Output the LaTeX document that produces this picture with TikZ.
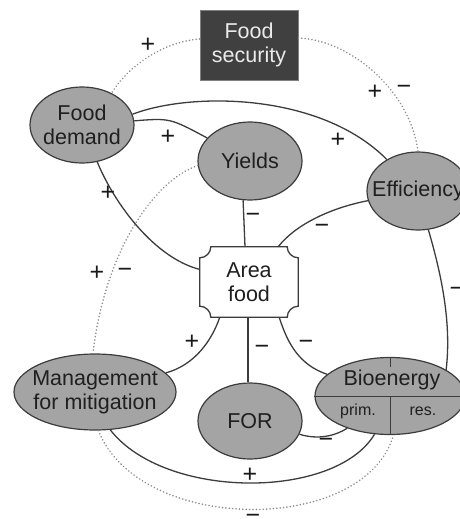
\documentclass[tikz,border=0pt]{standalone}
\usepackage{fontspec}
\setmainfont{Liberation Sans}
\usetikzlibrary{shapes.geometric,calc}
\definecolor{elfill}{HTML}{A4A4A4}
\definecolor{edgec}{HTML}{3C3C3C}
\definecolor{fsfill}{HTML}{404040}
\definecolor{dotc}{HTML}{8C8C8C}
\begin{document}
\begin{tikzpicture}[x=1pt,y=-1pt,
 font=\fontsize{21.5}{24}\selectfont,
 el/.style={ellipse, draw=edgec, fill=elfill, line width=1.2pt, inner sep=0pt},
 lbl/.style={align=center, text=black!88, inner sep=0pt},
 smalllbl/.style={lbl, font=\fontsize{16}{18}\selectfont},
 conn/.style={draw=edgec, line width=1.3pt},
 dots/.style={draw=dotc, line width=1.7pt, dash pattern=on 0.1pt off 3.3pt, line cap=round},
 sgn/.style={font=\fontsize{25}{25}\selectfont, text=black!90, inner sep=0pt}]
\useasboundingbox (0,0) rectangle (460,519);
\clip (0,0) rectangle (460,519);

% nodes
\node[draw=gray, fill=fsfill, line width=0.8pt, minimum width=98pt, minimum height=70pt, inner sep=0pt] (FS) at (249,45) {};
\node[lbl, text=white!92!black] (FSt) at (FS) {Food\\security};
\node[el, minimum width=104pt, minimum height=76pt] (FD) at (82,125) {};
\node[el, minimum width=104pt, minimum height=78pt] (Y) at (250,161) {};
\node[el, minimum width=102pt, minimum height=78pt] (E) at (418,191) {};
\node[minimum width=98pt, minimum height=70pt, inner sep=0pt] (A) at (249,282) {};
\node[el, minimum width=162pt, minimum height=76pt] (M) at (95,392) {};
\node[el, minimum width=104pt, minimum height=76pt] (FOR) at (250,421) {};
\node[el, minimum width=150pt, minimum height=77pt] (B) at (390,396) {};

% area food outline (concave corners)
\draw[conn, fill=white]
 ($(A.north west)+(11,0)$) -- ($(A.north east)+(-11,0)$)
 .. controls +(0,6) and +(-6,0) .. ($(A.north east)+(0,11)$)
 -- ($(A.south east)+(0,-11)$)
 .. controls +(-6,0) and +(0,-6) .. ($(A.south east)+(-11,0)$)
 -- ($(A.south west)+(11,0)$)
 .. controls +(0,-6) and +(6,0) .. ($(A.south west)+(0,-11)$)
 -- ($(A.north west)+(0,11)$)
 .. controls +(6,0) and +(0,6) .. cycle;

% bioenergy partitions
\draw[conn, line width=1pt] (B.west) -- (B.east);
\draw[conn, line width=1pt] (B.center) -- (B.south);
\draw[conn, line width=1pt] (B.north) -- ($(B.north)+(0,10)$);

% texts
\node[lbl] (FDt) at (FD) {Food\\demand};
\node[lbl] (Yt) at (Y) {Yields};
\node[lbl] (Et) at (E) {Efficiency};
\node[lbl] (At) at (A) {Area\\food};
\node[lbl] (Mt) at (M) {Management\\for mitigation};
\node[lbl] (FORt) at (FOR) {FOR};
\node[lbl] (Bt) at (392,380) {Bioenergy};
\node[smalllbl] (Bp) at (358,411) {prim.};
\node[smalllbl] (Br) at (423,411) {res.};

% solid connectors
\draw[conn] (FD.12) .. controls (190,92) and (320,92) .. (E);
\draw[conn] (FD) .. controls (170,118) .. (Y);
\draw[conn] (FD) .. controls (115,205) and (155,258) .. (A);
\draw[conn] (Y.260) -- ($(A.north)+(-4,0)$);
\draw[conn] (E) .. controls (330,208) and (295,225) .. ($(A.north east)+(-20,0)$);
\draw[conn] (E.-75) .. controls (440,270) and (452,320) .. (B.25);
\draw[conn] ($(A.south west)+(20,0)$) .. controls (212,340) and (195,365) .. (M);
\draw[conn] ($(A.south)+(-1,0)$) -- (FOR.north -| 248,0);
\draw[conn] ($(A.south east)+(-19,0)$) .. controls (288,345) and (300,365) .. (B);
\draw[conn] (FOR.-15) .. controls (318,440) and (335,436) .. (B.217);
\draw[conn] (M.-68) .. controls (165,500) and (335,500) .. (B.248);

% dotted connectors
\draw[dots] ($(FS.west)+(0,-6)$) .. controls (160,42) and (125,70) .. (FD.47);
\draw[dots] ($(FS.east)+(0,-7)$) .. controls (350,40) and (410,90) .. (E.90);
\draw[dots] (Y.185) .. controls (155,180) and (105,250) .. (M.93);
\draw[dots] (M.-85) .. controls (140,535) and (365,535) .. (B.-85);

% signs
\node[sgn] (s1) at (148,45) {+};
\node[sgn] (s2) at (375,92) {+};
\node[sgn] (s3) at (404,90) {−};
\node[sgn] (s4) at (168,137) {+};
\node[sgn] (s5) at (338,140) {+};
\node[sgn] (s6) at (108,193) {+};
\node[sgn] (s7) at (253,218) {−};
\node[sgn] (s8) at (322,229) {−};
\node[sgn] (s9) at (97,273) {+};
\node[sgn] (s10) at (125,273) {−};
\node[sgn] (s11) at (457,292) {−};
\node[sgn] (s12) at (192,342) {+};
\node[sgn] (s13) at (262,350) {−};
\node[sgn] (s14) at (306,345) {−};
\node[sgn] (s15) at (326,443) {−};
\node[sgn] (s16) at (250,475) {+};
\node[sgn] (s17) at (253,519) {−};
\end{tikzpicture}
\end{document}
